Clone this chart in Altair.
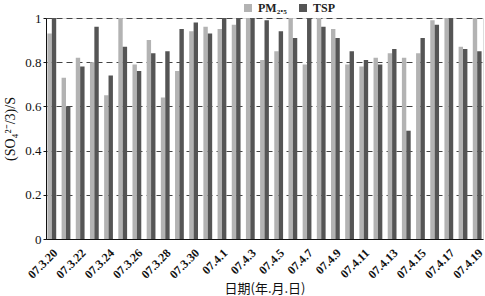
import altair as alt
import pandas as pd

dates = ["07.3.20", "07.3.21", "07.3.22", "07.3.23", "07.3.24", "07.3.25", "07.3.26",
         "07.3.27", "07.3.28", "07.3.29", "07.3.30", "07.3.31", "07.4.1", "07.4.2",
         "07.4.3", "07.4.4", "07.4.5", "07.4.6", "07.4.7", "07.4.8", "07.4.9", "07.4.10",
         "07.4.11", "07.4.12", "07.4.13", "07.4.14", "07.4.15", "07.4.16", "07.4.17",
         "07.4.18", "07.4.19"]
pm25 = [0.93, 0.73, 0.82, 0.80, 0.65, 1.00, 0.79, 0.90, 0.64, 0.76, 0.94, 0.96, 0.95, 0.97,
        1.00, 0.81, 0.85, 1.00, 0.79, 1.00, 0.95, 0.79, 0.78, 0.82, 0.84, 0.82, 0.84, 0.99,
        1.00, 0.87, 1.00]
tsp = [1.00, 0.60, 0.78, 0.96, 0.74, 0.87, 0.76, 0.84, 0.85, 0.95, 0.98, 0.93, 1.00, 1.00,
       1.00, 0.99, 0.94, 0.91, 1.00, 0.96, 0.91, 0.85, 0.81, 0.79, 0.86, 0.49, 0.91, 0.97,
       1.00, 0.86, 0.85]
series_names = ["PM₂.₅", "TSP"]
series_colors = ["#b3b3b3", "#555555"]
label_dates = dates[::2]
y_ticks = [0, 0.2, 0.4, 0.6, 0.8, 1]

rows = []
for d, a, b in zip(dates, pm25, tsp):
    rows.append({"date": d, "series": series_names[0], "value": a})
    rows.append({"date": d, "series": series_names[1], "value": b})
df = pd.DataFrame(rows)

serif = "Liberation Serif"

chart = alt.Chart(df).mark_bar().encode(
    x=alt.X("date:N", sort=dates,
            scale=alt.Scale(paddingInner=0.38, paddingOuter=0.1),
            axis=alt.Axis(values=label_dates, labelAngle=-45, labelFont=serif,
                          labelFontSize=12, labelFontWeight="bold", labelColor="#111",
                          ticks=False, domainColor="#111", labelPadding=8,
                          title="日期(年.月.日)", titleFont="Noto Sans CJK SC",
                          titleFontSize=13, titleFontWeight="normal", titleColor="#111",
                          titlePadding=2)),
    xOffset=alt.XOffset("series:N", sort=series_names,
                        scale=alt.Scale(paddingInner=0, paddingOuter=0)),
    y=alt.Y("value:Q", scale=alt.Scale(domain=[0, 1], nice=False),
            axis=alt.Axis(values=y_ticks, format="~g", labelFont=serif, labelFontSize=13,
                          labelColor="#111", tickSize=3, tickColor="#111",
                          domainColor="#111", grid=True, gridDash=[6, 4],
                          gridColor="#444", gridWidth=1,
                          title="(SO₄²⁻/3)/S", titleFont=serif, titleFontSize=14,
                          titleFontWeight="normal", titleColor="#111", titlePadding=7)),
    color=alt.Color("series:N", sort=series_names,
                    scale=alt.Scale(domain=series_names, range=series_colors),
                    legend=alt.Legend(orient="none", legendX=196, legendY=-16,
                                      direction="horizontal", title=None,
                                      symbolType="square", symbolSize=64,
                                      symbolStrokeWidth=0, labelFont=serif,
                                      labelFontSize=12, labelFontWeight="bold",
                                      labelColor="#222", columnPadding=10,
                                      padding=0, labelOffset=4)),
).properties(
    width=437, height=221,
    autosize=alt.AutoSizeParams(type="none"),
    padding={"left": 46, "top": 18, "right": 2, "bottom": 57},
).configure_view(stroke="#777", strokeWidth=1).configure(background="white")

chart.save("out.html", embed_options={"renderer": "svg", "actions": False})
